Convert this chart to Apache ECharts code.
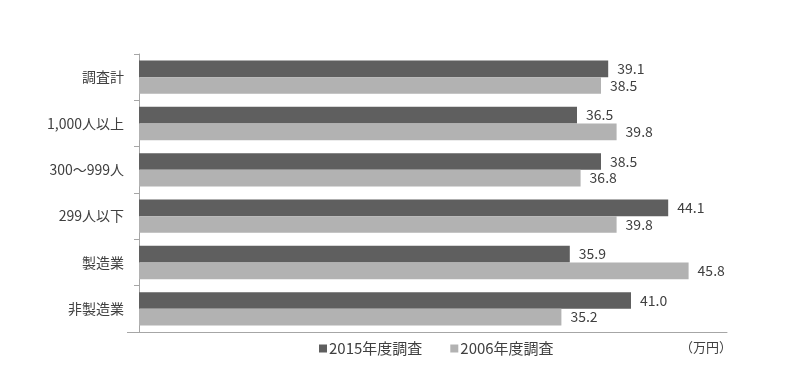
<!DOCTYPE html>
<html>
<head>
<meta charset="utf-8">
<script src="https://cdn.jsdelivr.net/npm/echarts@6/dist/echarts.min.js"></script>
<style>
html,body{margin:0;padding:0;background:#fff;}
#c{width:800px;height:380px;}
</style>
</head>
<body>
<div id="c"></div>
<script>
const categories = ['調査計', '1,000人以上', '300〜999人', '299人以下', '製造業', '非製造業'];
const series2015 = [39.1, 36.5, 38.5, 44.1, 35.9, 41.0];
const series2006 = [38.5, 39.8, 36.8, 39.8, 45.8, 35.2];
const seriesNames = ['2015年度調査', '2006年度調査'];
const unitLabel = '（万円）';

const FONT = '"Noto Sans CJK JP", "Noto Sans", sans-serif';
const chart = echarts.init(document.getElementById('c'), null, {renderer: 'canvas'});
const labelOpt = {
  show: true, position: 'right', distance: 9,
  color: '#404040', fontSize: 14, fontFamily: FONT,
  formatter: p => p.value.toFixed(1)
};
chart.setOption({
  backgroundColor: '#ffffff',
  animation: false,
  grid: {left: 139, right: 73, top: 54, bottom: 48, containLabel: false},
  xAxis: {
    type: 'value', min: 0, max: 49,
    axisLabel: {show: false}, axisTick: {show: false},
    splitLine: {show: false},
    axisLine: {show: true, lineStyle: {color: '#a6a6a6', width: 1}}
  },
  yAxis: {
    type: 'category', data: categories, inverse: true,
    axisLine: {show: true, lineStyle: {color: '#a6a6a6', width: 1}},
    axisTick: {show: true, length: 5, lineStyle: {color: '#a6a6a6'}},
    axisLabel: {color: '#404040', fontSize: 14, fontFamily: FONT, margin: 15}
  },
  legend: {
    data: seriesNames, bottom: 19, left: 314,
    icon: 'rect', itemWidth: 8, itemHeight: 8, itemGap: 28,
    textStyle: {color: '#404040', fontSize: 15, fontFamily: FONT, padding: [0, 0, 0, -3]}
  },
  graphic: [{
    type: 'text', right: 68, top: 341,
    style: {text: unitLabel, fill: '#404040', fontSize: 13, fontFamily: FONT}
  }, {
    type: 'line', shape: {x1: 127, y1: 332.5, x2: 139, y2: 332.5},
    style: {stroke: '#a6a6a6', lineWidth: 1}
  }],
  series: [
    {name: seriesNames[0], type: 'bar', data: series2015, barGap: '0%', barCategoryGap: '28%',
     itemStyle: {color: '#5f5f5f'}, label: labelOpt},
    {name: seriesNames[1], type: 'bar', data: series2006, barGap: '0%', barCategoryGap: '28%',
     itemStyle: {color: '#b2b2b2'}, label: labelOpt}
  ]
});
</script>
</body>
</html>
